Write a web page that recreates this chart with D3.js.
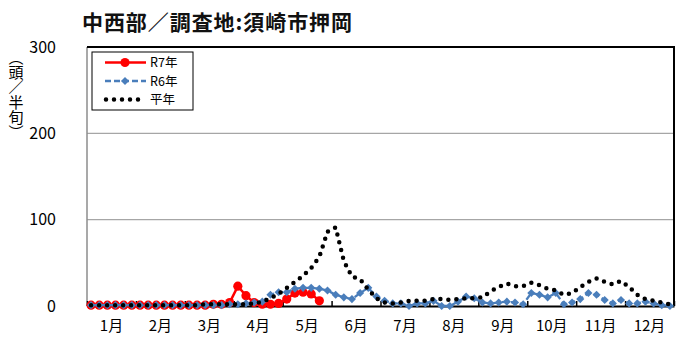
<!DOCTYPE html>
<html><head><meta charset="utf-8">
<script src="https://cdn.jsdelivr.net/npm/d3@7"></script>
<style>body{margin:0;background:#fff}svg{display:block}text{font-family:"Noto Sans CJK JP","Noto Sans",sans-serif}</style>
</head><body><svg id="c" width="700" height="355"></svg>
<script>
const months = ["1月","2月","3月","4月","5月","6月","7月","8月","9月","10月","11月","12月"];
const yTicks = [0,100,200,300];
const seriesNames = ["R7年","R6年","平年"];
// 72 half-decade (半旬) values per year
const r7 = [1,1,1,1,1,1,1,1,1,1,1,1,1,1,1,2,2,4,23,12,4,2,2,3,8,15,16,14,6];
const r6 = [1,1,1,1,1,1,1,1,1,1,1,1,1,1,1,1,1,2,2,3,4,5,13,16,16,20,21,21,20,18,13,10,8,15,21,11,
            6,3,3,0,3,3,6,0,0,5,11,9,4,3,4,5,4,2,15,13,10,15,2,4,8,15,13,7,3,7,3,3,5,3,1,0];
const avg = [1,1,1,1,1,1,1,1,1,1,1,1,1,1,2,2,2,2,2,2,3,5,9,14,21,28,35,44,57,86,91,52,34,31,19,9,
             4,3,4,6,6,6,8,8,7,8,9,9,10,17,22,26,23,23,27,24,20,18,13,15,22,28,32,28,25,29,22,13,8,6,4,2];

const svg = d3.select("#c");
const L = 87, R = 674, T = 47, B = 306;
const x = d3.scaleLinear().domain([0,72]).range([L,R]);
const y = d3.scaleLinear().domain([0,300]).range([B,T]);
const red = "#ff0000", blue = "#4a7ebb";

// title
svg.append("text").attr("x",82).attr("y",30).attr("font-size",21).attr("font-weight","bold")
  .attr("textLength",270).attr("lengthAdjust","spacing").attr("fill","#111")
  .text("中西部／調査地:須崎市押岡");

// gridlines
svg.append("g").selectAll("line").data(yTicks.filter(d=>d>0&&d<300)).join("line")
  .attr("x1",L).attr("x2",R).attr("y1",d=>y(d)).attr("y2",d=>y(d))
  .attr("stroke","#a6a6a6").attr("stroke-width",1.2);

// frame
svg.append("line").attr("x1",L).attr("x2",L).attr("y1",T).attr("y2",B).attr("stroke","#8c8c8c").attr("stroke-width",1.5);
svg.append("line").attr("x1",L).attr("x2",R+1).attr("y1",T).attr("y2",T).attr("stroke","#000").attr("stroke-width",2);
svg.append("line").attr("x1",R).attr("x2",R).attr("y1",T).attr("y2",B).attr("stroke","#000").attr("stroke-width",2);

// y axis labels
const yAxis = d3.axisLeft(y).tickValues(yTicks).tickSize(0).tickPadding(0);
const gy = svg.append("g").attr("transform",`translate(56,0)`).call(yAxis);
gy.select(".domain").remove();
gy.selectAll("text").attr("font-size",16).attr("fill","#000").attr("font-family","'Noto Sans','Noto Sans CJK JP',sans-serif");

// y axis title (vertical)
svg.append("text").attr("x",16).attr("y",50).attr("font-size",15).attr("fill","#000")
  .style("writing-mode","vertical-rl").text("（頭／半旬）");

// x axis: month ticks inward
const xm = d3.scaleLinear().domain([0,12]).range([L,R]);
const gx = svg.append("g").attr("transform",`translate(0,${B})`)
  .call(d3.axisBottom(xm).tickValues(d3.range(0,13)).tickSizeInner(-5).tickSizeOuter(0).tickFormat(""));
gx.select(".domain").attr("stroke","#000").attr("stroke-width",2);
gx.selectAll(".tick line").attr("stroke","#000").attr("stroke-width",1.5);

const xb = d3.scaleBand().domain(months).range([L,R]);
const gl = svg.append("g").attr("transform",`translate(0,${B})`)
  .call(d3.axisBottom(xb).tickSize(0).tickPadding(14));
gl.select(".domain").remove();
gl.selectAll("text").attr("font-size",15).attr("fill","#000");

const px = (d,i)=>x(i+0.5);
const line = d3.line().x(px).y(d=>y(d));

// R7
svg.append("path").attr("d",line(r7)).attr("fill","none").attr("stroke",red).attr("stroke-width",2.5);
svg.append("g").selectAll("circle").data(r7).join("circle")
  .attr("cx",px).attr("cy",d=>y(d)).attr("r",4.6).attr("fill",red);

// R6
svg.append("path").attr("d",line(r6)).attr("fill","none").attr("stroke",blue).attr("stroke-width",2.3)
  .attr("stroke-dasharray","6,3");
const diamond = d3.symbol().type(d3.symbolDiamond2).size(42);
svg.append("g").selectAll("path").data(r6).join("path")
  .attr("d",diamond).attr("transform",(d,i)=>`translate(${px(d,i)},${y(d)})`).attr("fill",blue);

// 平年
svg.append("path").attr("d",line(avg)).attr("fill","none").attr("stroke","#000").attr("stroke-width",4.5)
  .attr("stroke-linecap","round").attr("stroke-dasharray","0,8");

// legend
const lg = svg.append("g");
lg.append("rect").attr("x",92).attr("y",52).attr("width",101).attr("height",58)
  .attr("fill","#fff").attr("stroke","#000").attr("stroke-width",1);
const ly = [62.5,81,99.5];
lg.append("line").attr("x1",105).attr("x2",146).attr("y1",ly[0]).attr("y2",ly[0]).attr("stroke",red).attr("stroke-width",2.5);
lg.append("circle").attr("cx",125).attr("cy",ly[0]).attr("r",4.6).attr("fill",red);
lg.append("line").attr("x1",105).attr("x2",146).attr("y1",ly[1]).attr("y2",ly[1]).attr("stroke",blue).attr("stroke-width",2.3).attr("stroke-dasharray","6,3");
lg.append("path").attr("d",diamond).attr("transform",`translate(125,${ly[1]})`).attr("fill",blue);
lg.append("line").attr("x1",106).attr("x2",144).attr("y1",ly[2]).attr("y2",ly[2]).attr("stroke","#000").attr("stroke-width",4.5)
  .attr("stroke-linecap","round").attr("stroke-dasharray","0,8");
lg.selectAll("text.l").data(seriesNames).join("text").attr("class","l")
  .attr("x",150).attr("y",(d,i)=>ly[i]+4.5).attr("font-size",12.5).attr("fill","#000").text(d=>d);
</script></body></html>
